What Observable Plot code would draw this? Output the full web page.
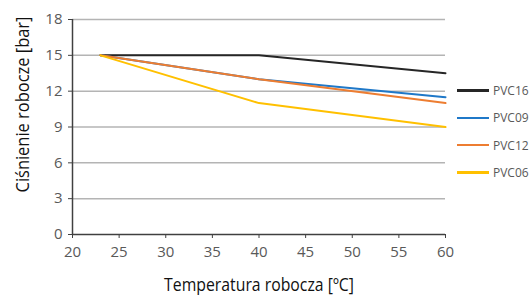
<!DOCTYPE html>
<html><head><meta charset="utf-8">
<script src="https://cdn.jsdelivr.net/npm/d3@7"></script>
<script src="https://cdn.jsdelivr.net/npm/@observablehq/plot@0.6"></script>
<style>
body{margin:0;background:#fff;}
#wrap{position:relative;width:532px;height:300px;}
#legend{position:absolute;left:457px;top:77px;font-family:"Open Sans",sans-serif;font-size:12px;color:#595959;}
#legend .it{display:flex;align-items:center;height:27.3px;}
#legend .sw{width:32px;height:2.5px;margin-right:4px;}
</style></head>
<body><div id="wrap"><div id="legend"></div></div>
<script>
const series = ["PVC16","PVC09","PVC12","PVC06"];
const colors = ["#262626","#1F78C8","#ED7D31","#FFC000"];
const temps = [23, 40, 60];
const PVC16 = [15, 15, 13.5];
const PVC09 = [15, 13, 11.5];
const PVC12 = [15, 13, 11];
const PVC06 = [15, 11, 9];
const xTicks = [20,25,30,35,40,45,50,55,60];
const yTicks = [0,3,6,9,12,15,18];
const values = {PVC16, PVC09, PVC12, PVC06};
const data = series.flatMap(s => temps.map((t,i)=>({series:s, t, p:values[s][i]})));

const chart = Plot.plot({
  width:532, height:300,
  marginLeft:72, marginRight:87, marginTop:19, marginBottom:66,
  x:{domain:[20,60]},
  y:{domain:[0,18]},
  color:{domain:series, range:colors},
  style:{fontFamily:"'Open Sans', sans-serif"},
  marks:[
    Plot.gridY(yTicks.filter(d=>d>0), {stroke:"#b4b4b4", strokeOpacity:1, strokeWidth:1.5}),
    Plot.ruleX([20], {y1:0, y2:18, stroke:"#404040", strokeWidth:1.5}),
    Plot.ruleY([0], {stroke:"#404040", strokeWidth:1.5}),
    Plot.axisY({ticks:yTicks, tickSize:4, tickPadding:6, stroke:"#404040", fill:"#595959", fontSize:15, label:null}),
    Plot.axisX({ticks:xTicks, tickSize:4, tickPadding:8, stroke:"#404040", fill:"#595959", fontSize:15, label:null}),
    Plot.line(data, {x:"t", y:"p", z:"series", stroke:"series", strokeWidth:2}),
    Plot.text(["Temperatura robocza [ºC]"], {className:"xt", frameAnchor:"bottom", dy:56, text:d=>d, fontSize:19, fill:"#111", textAnchor:"middle"}),
    Plot.text(["Ciśnienie robocze [bar]"], {className:"yt", frameAnchor:"top-left", dx:-57, dy:85, rotate:-90, text:d=>d, fontSize:19, fill:"#111", textAnchor:"middle"})
  ]
});
document.getElementById("wrap").prepend(chart);
function squeeze(sel, target){
  d3.select(chart).selectAll(sel).each(function(){
    const w = this.getComputedTextLength();
    const k = Math.min(1, target / w);
    const t = this.getAttribute("transform") || "";
    this.setAttribute("transform", t + ` scale(${k},1)`);
  });
}
squeeze(".xt text", 190);
squeeze(".yt text", 176);
const lg = document.getElementById("legend");
series.forEach((s,i)=>{
  const it=document.createElement("div");it.className="it";
  it.innerHTML=`<div class="sw" style="background:${colors[i]}"></div><span>${s}</span>`;
  lg.appendChild(it);
});
</script></body></html>
